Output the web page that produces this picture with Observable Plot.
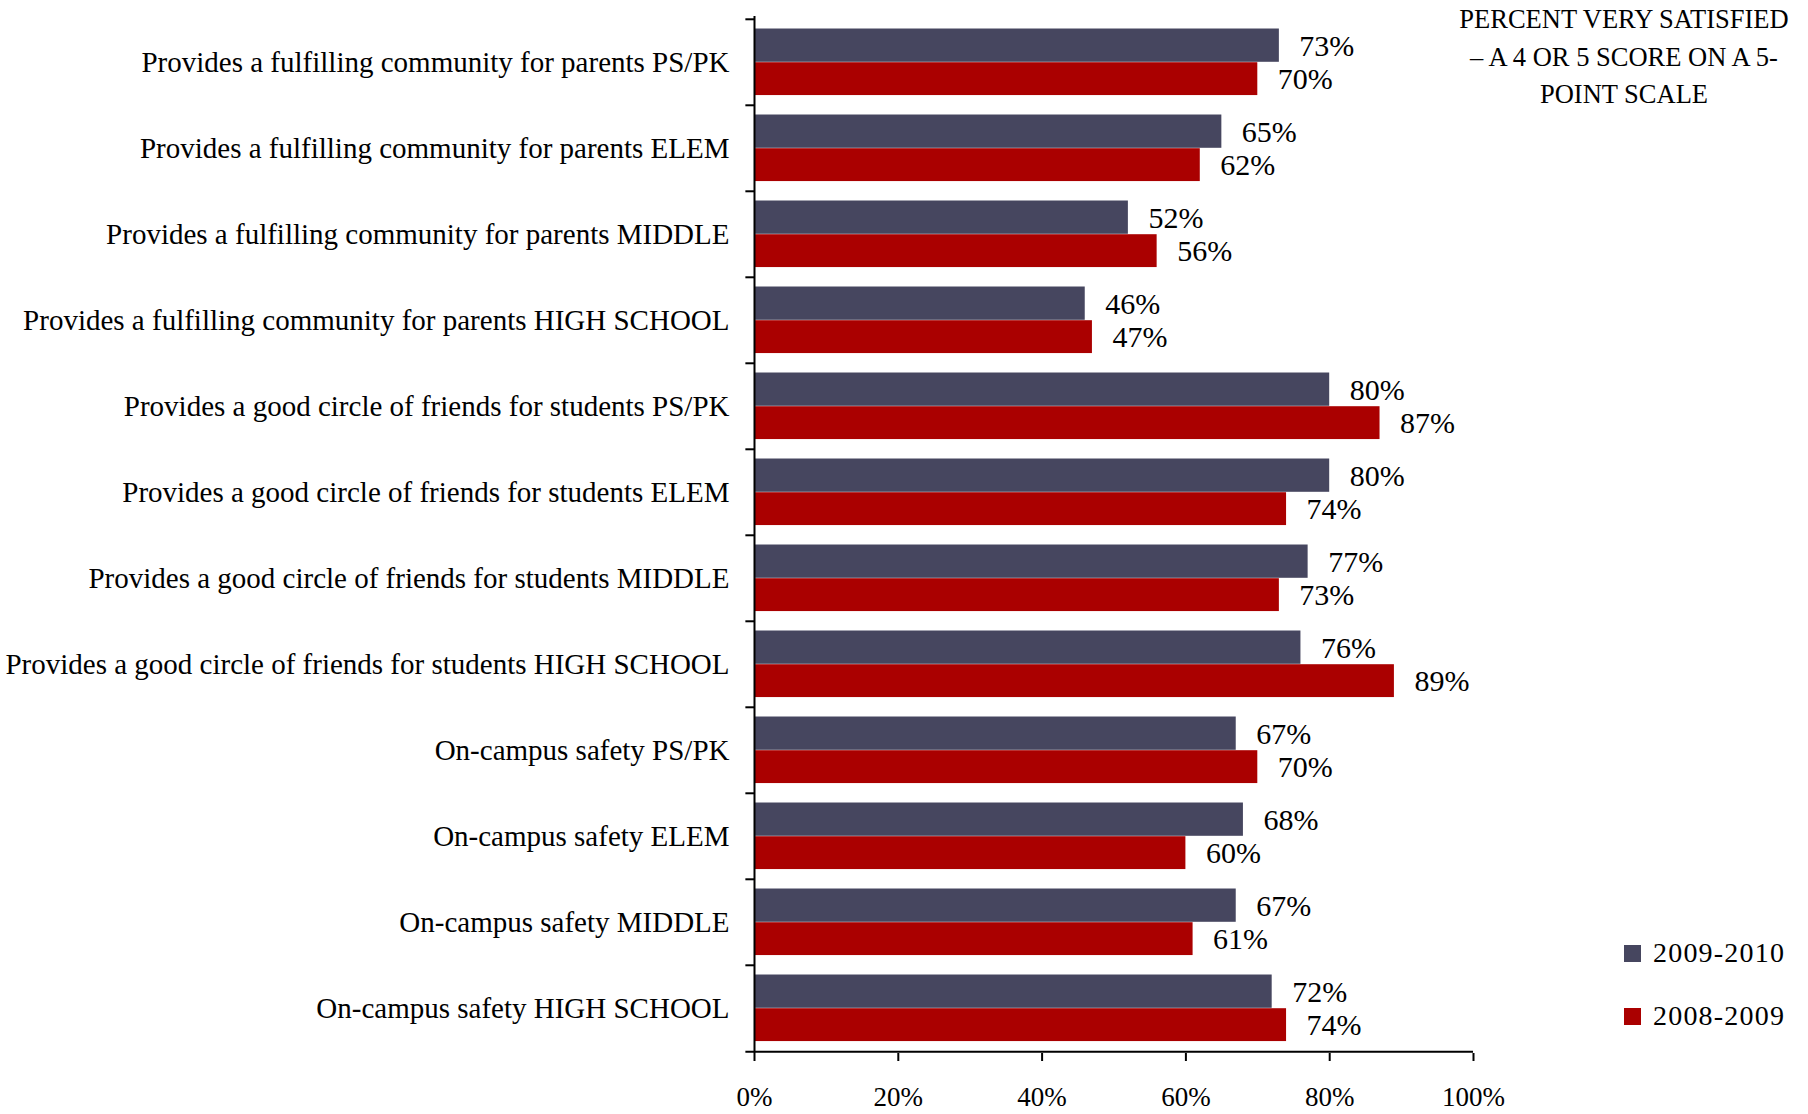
<!DOCTYPE html>
<html>
<head>
<meta charset="utf-8">
<script src="https://cdn.jsdelivr.net/npm/d3@7"></script>
<script src="https://cdn.jsdelivr.net/npm/@observablehq/plot@0.6"></script>
<style>
  html, body { margin: 0; padding: 0; background: #fff; }
  #wrap { position: relative; width: 1808px; height: 1114px; font-family: "Liberation Serif", "DejaVu Serif", serif; color: #000; }
  #title { position: absolute; left: 1440px; width: 368px; top: 1px; text-align: center; font-size: 26.5px; line-height: 37.5px; }
  .leg { position: absolute; left: 1624px; font-size: 28px; letter-spacing: 1.2px; display: flex; align-items: center; height: 30px; }
  .leg span.sw { display: inline-block; width: 17px; height: 17px; margin-right: 12px; }
</style>
</head>
<body>
<div id="wrap">
  <div id="chart"></div>
  <div id="title"></div>
  <div id="legend"></div>
</div>
<script>
const categories = [
  "Provides a fulfilling community for parents PS/PK",
  "Provides a fulfilling community for parents ELEM",
  "Provides a fulfilling community for parents MIDDLE",
  "Provides a fulfilling community for parents HIGH SCHOOL",
  "Provides a good circle of friends for students PS/PK",
  "Provides a good circle of friends for students ELEM",
  "Provides a good circle of friends for students MIDDLE",
  "Provides a good circle of friends for students HIGH SCHOOL",
  "On-campus safety PS/PK",
  "On-campus safety ELEM",
  "On-campus safety MIDDLE",
  "On-campus safety HIGH SCHOOL"
];
const series = ["2009-2010", "2008-2009"];
const values2009_2010 = [73, 65, 52, 46, 80, 80, 77, 76, 67, 68, 67, 72];
const values2008_2009 = [70, 62, 56, 47, 87, 74, 73, 89, 70, 60, 61, 74];
const xTicks = [0, 20, 40, 60, 80, 100];
const titleLines = ["PERCENT VERY SATISFIED", "\u2013 A 4 OR 5 SCORE ON A 5-", "POINT SCALE"];
const colors = ["#46465f", "#aa0000"];

const W = 1808, H = 1114;
const mTop = 16, mBottom = 61, mLeft = 754, mRight = 335;
const bw = (H - mTop - mBottom) / categories.length;

const d1 = categories.map((c, i) => ({cat: c, value: values2009_2010[i]}));
const d2 = categories.map((c, i) => ({cat: c, value: values2008_2009[i]}));

const chart = Plot.plot({
  width: W,
  height: H,
  marginTop: mTop,
  marginBottom: mBottom,
  marginLeft: mLeft,
  marginRight: mRight,
  style: {fontFamily: "'Liberation Serif', serif", fontSize: "29px", color: "#000", background: "transparent"},
  x: {domain: [0, 100]},
  y: {domain: categories, padding: 0},
  marks: [
    Plot.barX(d1, {x: "value", y: "cat", fill: colors[0], insetTop: 0.11 * bw, insetBottom: 0.5 * bw}),
    Plot.barX(d2, {x: "value", y: "cat", fill: colors[1], insetTop: 0.5 * bw, insetBottom: 0.115 * bw}),
    Plot.text(d1, {x: "value", y: "cat", text: d => d.value + "%", textAnchor: "start", dx: 20, dy: -0.19 * bw, fill: "#000", fontSize: 30}),
    Plot.text(d2, {x: "value", y: "cat", text: d => d.value + "%", textAnchor: "start", dx: 20, dy: 0.19 * bw, fill: "#000", fontSize: 30}),
    Plot.ruleX([0], {stroke: "#000", strokeWidth: 2}),
    Plot.ruleY(categories, {x1: -1.2, x2: 0, dy: -bw / 2, stroke: "#000", strokeWidth: 2}),
    Plot.ruleY([categories[categories.length - 1]], {x1: -1.2, x2: 100, dy: bw / 2, stroke: "#000", strokeWidth: 2}),
    Plot.axisY({tickSize: 0, tickPadding: 25, label: null}),
    Plot.axisX({ticks: xTicks, tickSize: 8, tickPadding: 25, strokeWidth: 2, fontSize: 27, tickFormat: d => d + "%", label: null})
  ]
});
document.getElementById("chart").appendChild(chart);

const title = document.getElementById("title");
titleLines.forEach(t => { const d = document.createElement("div"); d.textContent = t; title.appendChild(d); });

const legend = document.getElementById("legend");
const legTops = [938, 1001];
series.forEach((s, i) => {
  const row = document.createElement("div");
  row.className = "leg";
  row.style.top = legTops[i] + "px";
  const sw = document.createElement("span");
  sw.className = "sw";
  sw.style.background = colors[i];
  row.appendChild(sw);
  const tx = document.createElement("span");
  tx.textContent = s;
  row.appendChild(tx);
  legend.appendChild(row);
});
</script>
</body>
</html>
